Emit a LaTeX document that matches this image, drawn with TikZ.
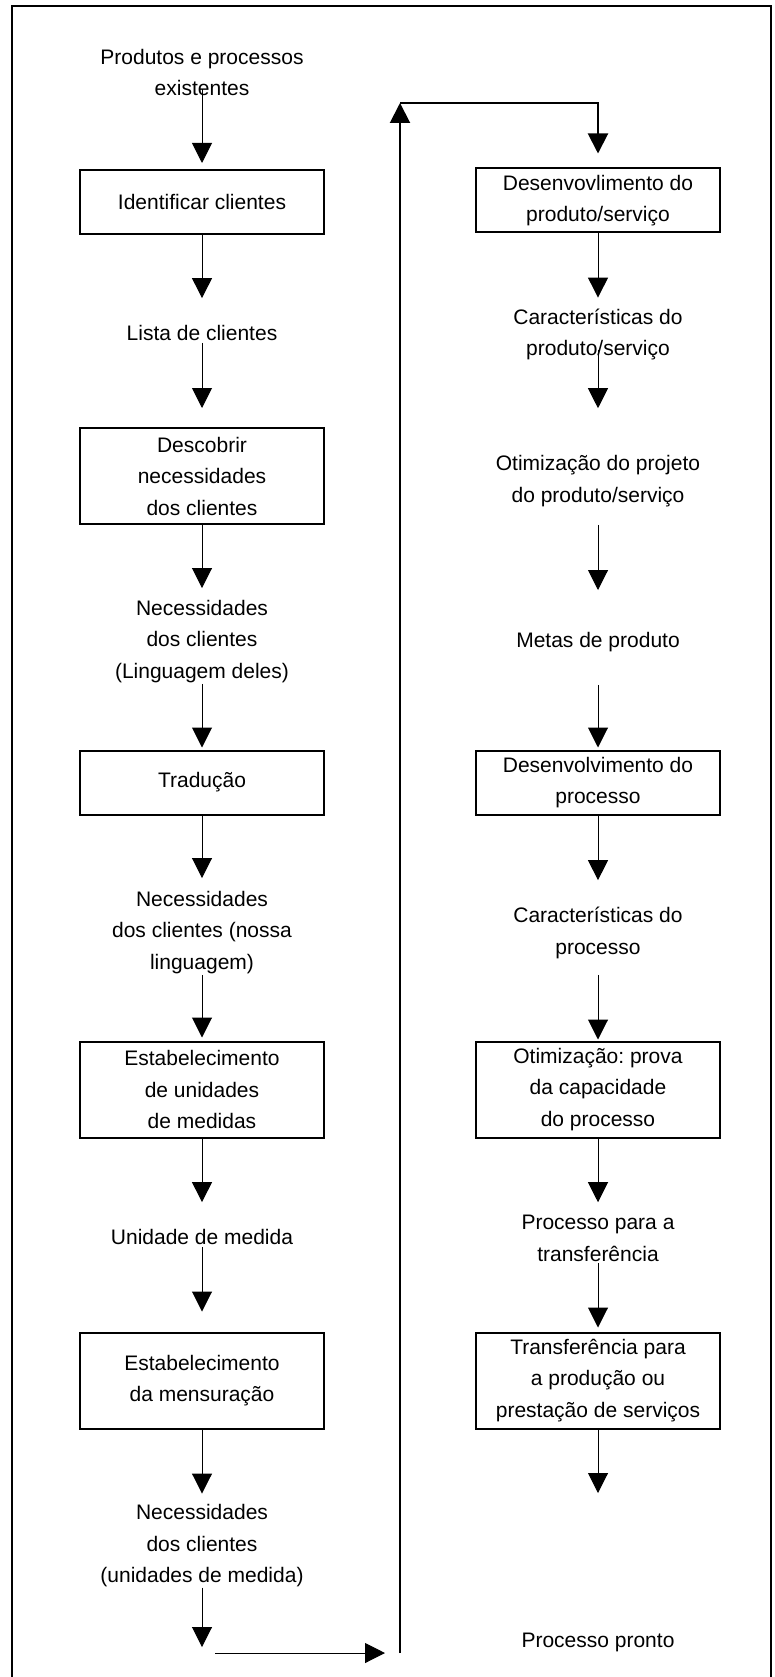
\documentclass[tikz,border=0pt]{standalone}
\usepackage{fontspec}
\setmainfont{Liberation Sans}
\usetikzlibrary{arrows.meta}
\frenchspacing

\begin{document}
\begin{tikzpicture}[x=1pt, y=-1pt,
    font=\fontsize{21}{31.5}\selectfont,
    etapa/.style={draw, line width=2pt, align=center, minimum width=244pt, minimum height=64pt, inner sep=0pt},
    rotulo/.style={align=center, inner sep=0pt},
    seta/.style={line width=1pt, -{Triangle[width=20pt, length=20pt]}},
    laco/.style={line width=2pt}]
    \useasboundingbox (0,0) rectangle (774,1677);

    % Outer frame (open at the bottom)
    \draw[line width=2pt] (12,1677) -- (12,6) -- (771,6) -- (771,1677);

    % Left column: customer side
    \node[rotulo] (entrada) at (202,72.5) {Produtos e processos\\existentes};
    \node[etapa] (ident) at (202,202) {Identificar clientes};
    \node[rotulo] (lista) at (202,333) {Lista de clientes};
    \node[etapa, minimum height=96pt] (descob) at (202,476) {Descobrir\\necessidades\\dos clientes};
    \node[rotulo] (necdeles) at (202,641.5) {Necessidades\\dos clientes\\(Linguagem deles)};
    \node[etapa] (trad) at (202,782.5) {Tradução};
    \node[rotulo] (necnossa) at (202,932.5) {Necessidades\\dos clientes (nossa\\linguagem)};
    \node[etapa, minimum height=96pt] (unid) at (202,1089.5) {Estabelecimento\\de unidades\\de medidas};
    \node[rotulo] (medida) at (202,1237) {Unidade de medida};
    \node[etapa, minimum height=96pt] (mensur) at (202,1380.5) {Estabelecimento\\da mensuração};
    \node[rotulo] (necmed) at (202,1546) {Necessidades\\dos clientes\\(unidades de medida)};
    \coordinate (fimesq) at (202,1647);
    \coordinate (saida) at (215,1653);

    % Right column: product and process side
    \node[etapa] (desprod) at (598,200.5) {Desenvovlimento do\\produto/serviço};
    \node[rotulo] (caracprod) at (598,334.5) {Características do\\produto/serviço};
    \node[rotulo] (otimprod) at (598,481) {Otimização do projeto\\do produto/serviço};
    \node[rotulo] (metas) at (598,642) {Metas de produto};
    \node[etapa] (desproc) at (598,782.5) {Desenvolvimento do\\processo};
    \node[rotulo] (caracproc) at (598,933) {Características do\\processo};
    \node[etapa, minimum height=96pt] (otimproc) at (598,1089.5) {Otimização: prova\\da capacidade\\do processo};
    \node[rotulo] (transf) at (598,1238.5) {Processo para a\\transferência};
    \node[etapa, minimum height=96pt] (producao) at (598,1380.5) {Transferência para\\a produção ou\\prestação de serviços};
    \coordinate (fimdir) at (598,1493);
    \node[rotulo] (pronto) at (598,1642) {Processo pronto};

    % Loop from the left column to the right column
    \coordinate (volta) at (400,1653);
    \coordinate (topo) at (400,103);
    \coordinate (canto) at (598,103);

    % Left arrows
    \draw[seta, shorten <=-7pt, shorten >=6pt] (entrada) -- (ident);
    \draw[seta, shorten >=27pt] (ident) -- (lista);
    \draw[seta, shorten <=2pt, shorten >=19pt] (lista) -- (descob);
    \draw[seta, shorten >=12pt] (descob) -- (necdeles);
    \draw[seta, shorten <=1pt, shorten >=2pt] (necdeles) -- (trad);
    \draw[seta, shorten >=13pt] (trad) -- (necnossa);
    \draw[seta, shorten <=1pt, shorten >=3pt] (necnossa) -- (unid);
    \draw[seta, shorten >=27pt] (unid) -- (medida);
    \draw[seta, shorten <=2pt, shorten >=20pt] (medida) -- (mensur);
    \draw[seta, shorten >=11pt] (mensur) -- (necmed);
    \draw[seta] (necmed) -- (fimesq);
    \draw[seta, shorten >=15pt] (saida) -- (volta);

    % Loop
    \draw[laco, -{Triangle[width=20pt, length=20pt]}] (volta) -- (topo);
    \draw[laco, -{Triangle[width=20pt, length=20pt]}, shorten >=14pt] (topo) -- (canto) -- (desprod);

    % Right arrows
    \draw[seta, shorten >=11pt] (desprod) -- (caracprod);
    \draw[seta, shorten <=-10pt, shorten >=47pt] (caracprod) -- (otimprod);
    \draw[seta, shorten <=18pt, shorten >=42pt] (otimprod) -- (metas);
    \draw[seta, shorten <=33pt, shorten >=2pt] (metas) -- (desproc);
    \draw[seta, shorten >=27pt] (desproc) -- (caracproc);
    \draw[seta, shorten <=16pt, shorten >=1pt] (caracproc) -- (otimproc);
    \draw[seta, shorten >=13pt] (otimproc) -- (transf);
    \draw[seta, shorten <=1pt, shorten >=4pt] (transf) -- (producao);
    \draw[seta] (producao) -- (fimdir);
\end{tikzpicture}
\end{document}
